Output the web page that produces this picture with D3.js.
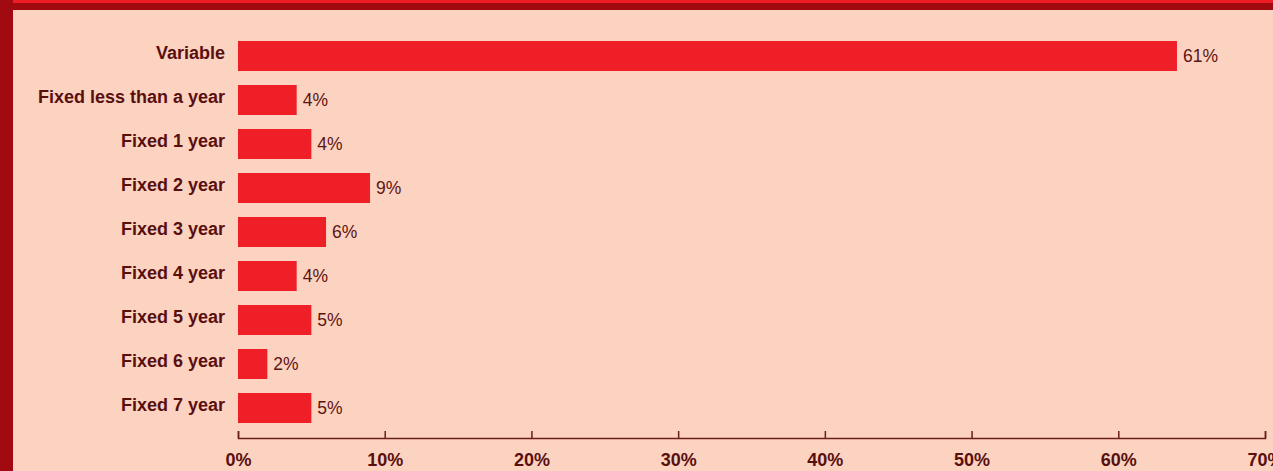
<!DOCTYPE html>
<html>
<head>
<meta charset="utf-8">
<script src="https://cdn.jsdelivr.net/npm/d3@7"></script>
<style>
  html, body { margin: 0; padding: 0; background: #FCD3C1; }
  svg { display: block; }
</style>
</head>
<body>
<svg id="chart" width="1273" height="471"></svg>
<script>
const categories = ["Variable", "Fixed less than a year", "Fixed 1 year", "Fixed 2 year", "Fixed 3 year", "Fixed 4 year", "Fixed 5 year", "Fixed 6 year", "Fixed 7 year"];
const barValues = [64, 4, 5, 9, 6, 4, 5, 2, 5];
const valueLabels = ["61%", "4%", "4%", "9%", "6%", "4%", "5%", "2%", "5%"];
const tickValues = [0, 10, 20, 30, 40, 50, 60, 70];
const tickLabels = ["0%", "10%", "20%", "30%", "40%", "50%", "60%", "70%"];

const W = 1273, H = 471;
const FONT = "'Liberation Sans', Arial, sans-serif";
const svg = d3.select("#chart");

// frame
svg.append("rect").attr("x", 0).attr("y", 0).attr("width", W).attr("height", H).attr("fill", "#FCD3C1");
svg.append("rect").attr("x", 0).attr("y", 0).attr("width", W).attr("height", 3).attr("fill", "#EE1C25");
svg.append("rect").attr("x", 0).attr("y", 3).attr("width", W).attr("height", 7).attr("fill", "#A00A10");
svg.append("rect").attr("x", 0).attr("y", 0).attr("width", 13).attr("height", H).attr("fill", "#A00A10");

const x = d3.scaleLinear().domain([0, 70]).range([238, 1265]);
const y = d3.scaleBand().domain(categories).range([34, 430]).paddingInner(14 / 44).paddingOuter(7 / 44);

const data = categories.map((c, i) => ({ c, v: barValues[i], label: valueLabels[i] }));

svg.append("g").selectAll("rect").data(data).join("rect")
  .attr("x", x(0))
  .attr("y", d => y(d.c))
  .attr("width", d => x(d.v) - x(0))
  .attr("height", y.bandwidth())
  .attr("fill", "#EE1F27");

svg.append("g").selectAll("text").data(data).join("text")
  .attr("x", d => x(d.v) + 6)
  .attr("y", d => y(d.c) + y.bandwidth() / 2)
  .attr("dy", "0.35em")
  .attr("font-family", FONT)
  .attr("font-size", 17.5)
  .attr("fill", "#5E1414")
  .text(d => d.label);

// category axis labels
svg.append("g").selectAll("text").data(data).join("text")
  .attr("x", 225)
  .attr("y", d => y(d.c) + y.bandwidth() / 2 - 3)
  .attr("dy", "0.35em")
  .attr("text-anchor", "end")
  .attr("font-family", FONT)
  .attr("font-weight", "bold")
  .attr("font-size", 18)
  .attr("fill", "#5A0F0F")
  .text(d => d.c);

// x axis
const xAxis = d3.axisBottom(x)
  .tickValues(tickValues)
  .tickFormat((d, i) => tickLabels[i])
  .tickSizeInner(-7)
  .tickSizeOuter(-7)
  .tickPadding(15);

const gx = svg.append("g").attr("transform", "translate(0,438)").call(xAxis);
gx.select(".domain").attr("stroke", "#6B1C1C").attr("stroke-width", 1.5);
gx.selectAll(".tick line").attr("stroke", "#6B1C1C").attr("stroke-width", 1.5);
gx.selectAll(".tick text")
  .attr("font-family", FONT)
  .attr("font-weight", "bold")
  .attr("font-size", 18)
  .attr("fill", "#5A0F0F");
</script>
</body>
</html>
